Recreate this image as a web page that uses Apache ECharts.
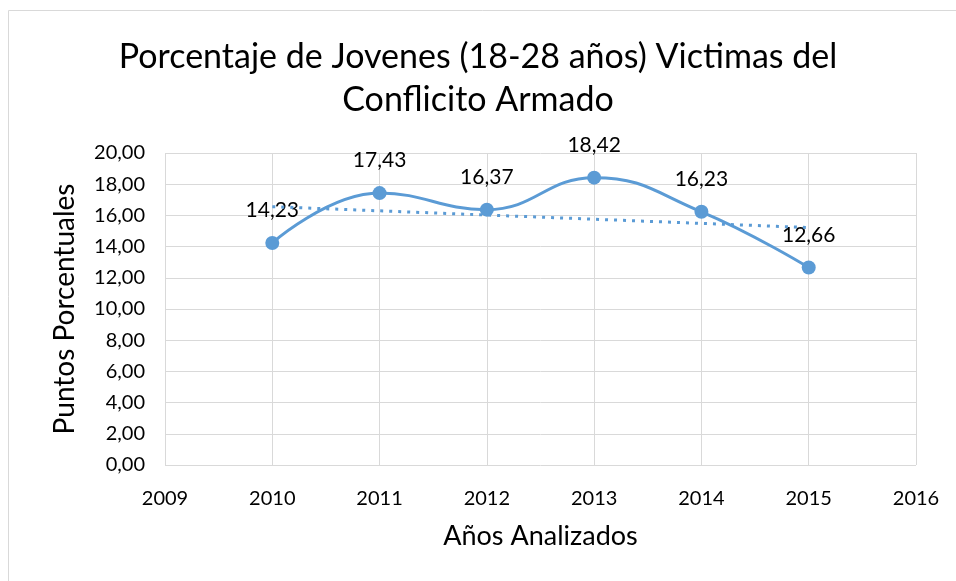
<!DOCTYPE html>
<html>
<head>
<meta charset="utf-8">
<script src="https://cdn.jsdelivr.net/npm/echarts@6/dist/echarts.min.js"></script>
<style>
  html, body { margin: 0; padding: 0; background: #fff; }
  #chart { width: 956px; height: 581px; }
</style>
</head>
<body>
<div id="chart"></div>
<script>
// datos
const years = [2010, 2011, 2012, 2013, 2014, 2015];
const values = [14.23, 17.43, 16.37, 18.42, 16.23, 12.66];
// línea de tendencia (extremos leídos)
const trendYears = [2010, 2015];
const trendValues = [16.56, 15.22];

const font = 'Lato, "Open Sans", sans-serif';
const fmt = v => v.toFixed(2).replace('.', ',');

const chart = echarts.init(document.getElementById('chart'));
chart.setOption({
  animation: false,
  textStyle: { fontFamily: font },
  title: {
    text: 'Porcentaje de Jovenes (18-28 años) Victimas del\nConflicito Armado',
    left: 'center',
    top: 31,
    textStyle: { fontSize: 34, fontWeight: 'normal', color: '#000', lineHeight: 43, fontFamily: font },
  },
  graphic: [{
    type: 'rect',
    shape: { x: 8.5, y: 10.5, width: 960, height: 600 },
    style: { fill: 'none', stroke: '#d9d9d9', lineWidth: 1 },
    silent: true,
  }],
  grid: { left: 165, right: 40, top: 153, bottom: 116 },
  xAxis: {
    type: 'value',
    min: 2009,
    max: 2016,
    interval: 1,
    name: 'Años Analizados',
    nameLocation: 'middle',
    nameGap: 58,
    nameTextStyle: { fontSize: 27, color: '#000', fontFamily: font },
    axisLine: { show: false },
    axisTick: { show: false },
    axisLabel: { fontSize: 20, color: '#000', margin: 24, formatter: v => String(v) },
    splitLine: { show: true, lineStyle: { color: '#d9d9d9', width: 1 } },
  },
  yAxis: {
    type: 'value',
    min: 0,
    max: 20,
    interval: 2,
    name: 'Puntos Porcentuales',
    nameLocation: 'middle',
    nameGap: 86,
    nameTextStyle: { fontSize: 28, color: '#000', fontFamily: font },
    axisLine: { show: false },
    axisTick: { show: false },
    axisLabel: { fontSize: 20, color: '#000', margin: 20, formatter: v => fmt(v) },
    splitLine: { show: true, lineStyle: { color: '#d9d9d9', width: 1 } },
  },
  series: [
    {
      type: 'line',
      data: years.map((y, i) => [y, values[i]]),
      smooth: 0.45,
      symbol: 'circle',
      symbolSize: 14,
      lineStyle: { color: '#5b9bd5', width: 3 },
      itemStyle: { color: '#5b9bd5' },
      label: {
        show: true,
        position: 'top',
        distance: 15,
        fontSize: 21,
        color: '#000',
        formatter: p => fmt(p.value[1]),
      },
      z: 2,
    },
    {
      type: 'line',
      data: trendYears.map((y, i) => [y, trendValues[i]]),
      symbol: 'none',
      lineStyle: { color: '#5b9bd5', width: 3, type: [3, 6] },
      z: 3,
    },
  ],
});
</script>
</body>
</html>
